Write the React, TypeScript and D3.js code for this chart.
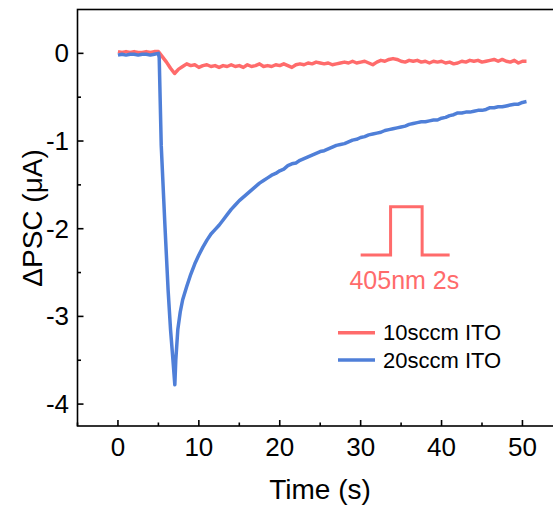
import React, { useEffect, useRef } from 'react';
import * as d3 from 'd3';

// 10sccm ITO trace
const redTime = [
  0, 0.5, 1, 1.5, 2, 2.5, 3, 3.5, 4, 4.5, 5, 5.5, 6, 6.5, 7, 7.5, 8, 8.5, 9, 9.5,
  10, 10.5, 11, 11.5, 12, 12.5, 13, 13.5, 14, 14.5, 15, 15.5, 16, 16.5, 17, 17.5, 18, 18.5, 19, 19.5,
  20, 20.5, 21, 21.5, 22, 22.5, 23, 23.5, 24, 24.5, 25, 25.5, 26, 26.5, 27, 27.5, 28, 28.5, 29, 29.5,
  30, 30.5, 31, 31.5, 32, 32.5, 33, 33.5, 34, 34.5, 35, 35.5, 36, 36.5, 37, 37.5, 38, 38.5, 39, 39.5,
  40, 40.5, 41, 41.5, 42, 42.5, 43, 43.5, 44, 44.5, 45, 45.5, 46, 46.5, 47, 47.5, 48, 48.5, 49, 49.5,
  50, 50.5,
];
const redValues = [
  0.02, 0.01, 0.02, 0.01, 0.02, 0.01, 0.01, 0.02, 0.01, 0.02, 0.02, -0.04, -0.1, -0.17, -0.23, -0.18, -0.15, -0.12, -0.14, -0.13,
  -0.16, -0.14, -0.13, -0.15, -0.14, -0.16, -0.14, -0.15, -0.13, -0.15, -0.14, -0.16, -0.13, -0.15, -0.14, -0.12, -0.15, -0.14, -0.15, -0.13,
  -0.14, -0.12, -0.14, -0.16, -0.13, -0.12, -0.13, -0.11, -0.12, -0.1, -0.11, -0.12, -0.11, -0.13, -0.12, -0.11, -0.1, -0.11, -0.09, -0.11,
  -0.1, -0.09, -0.11, -0.13, -0.1, -0.08, -0.09, -0.07, -0.06, -0.07, -0.09, -0.1, -0.08, -0.09, -0.08, -0.1, -0.09, -0.11, -0.09, -0.1,
  -0.09, -0.11, -0.1, -0.12, -0.11, -0.09, -0.1, -0.08, -0.09, -0.08, -0.1, -0.09, -0.08, -0.07, -0.09, -0.07, -0.09, -0.1, -0.08, -0.11,
  -0.09, -0.09,
];

// 20sccm ITO trace
const blueTime = [
  0, 0.5, 1, 1.5, 2, 2.5, 3, 3.5, 4, 4.5, 5, 5.1, 5.35, 5.8, 6.2, 6.5, 6.8, 7.03, 7.15, 7.4, 7.7,
  8, 8.5, 9, 9.5, 10, 10.5, 11, 11.5, 12, 12.5, 13, 13.5, 14, 14.5, 15, 15.5, 16, 16.5, 17, 17.5, 18, 18.5, 19, 19.5,
  20, 20.5, 21, 21.5, 22, 22.5, 23, 23.5, 24, 24.5, 25, 25.5, 26, 26.5, 27, 27.5, 28, 28.5, 29, 29.5,
  30, 30.5, 31, 31.5, 32, 32.5, 33, 33.5, 34, 34.5, 35, 35.5, 36, 36.5, 37, 37.5, 38, 38.5, 39, 39.5,
  40, 40.5, 41, 41.5, 42, 42.5, 43, 43.5, 44, 44.5, 45, 45.5, 46, 46.5, 47, 47.5, 48, 48.5, 49, 49.5,
  50, 50.5,
];
const blueValues = [
  -0.02, -0.01, -0.02, -0.01, -0.01, -0.02, -0.01, -0.01, -0.02, -0.01, 0.0, -0.05, -1.05, -1.95, -2.7, -3.15, -3.5, -3.78, -3.5, -3.15, -2.95,
  -2.81, -2.66, -2.52, -2.4, -2.3, -2.21, -2.13, -2.06, -2.01, -1.96, -1.9, -1.84, -1.78, -1.73, -1.68, -1.64, -1.6, -1.56, -1.52, -1.48, -1.45, -1.42, -1.39, -1.37,
  -1.34, -1.32, -1.28, -1.26, -1.25, -1.22, -1.2, -1.18, -1.16, -1.14, -1.12, -1.11, -1.09, -1.07, -1.05, -1.04, -1.03, -1.01, -0.99, -0.98,
  -0.96, -0.95, -0.93, -0.92, -0.91, -0.9, -0.88, -0.87, -0.86, -0.85, -0.84, -0.83, -0.81, -0.8, -0.79, -0.78, -0.78, -0.77, -0.76, -0.76,
  -0.74, -0.73, -0.71, -0.7, -0.68, -0.68, -0.67, -0.67, -0.66, -0.65, -0.65, -0.64, -0.62, -0.62, -0.61, -0.61, -0.6, -0.59, -0.58, -0.58,
  -0.56, -0.55,
];

// light pulse sketch (in data units)
const pulseTime = [30, 33.7, 33.7, 37.6, 37.6, 41];
const pulseLevel = [-2.3, -2.3, -1.75, -1.75, -2.3, -2.3];

const seriesNames = ['10sccm ITO', '20sccm ITO'];
const seriesColors = ['#ff6b6b', '#4f7fd8'];

const xTicks = [0, 10, 20, 30, 40, 50];
const xMinor = [-5, 5, 15, 25, 35, 45, 55];
const yTicks = [-4, -3, -2, -1, 0];
const yMinor = [-3.5, -2.5, -1.5, -0.5];

const W = 553;
const H = 511;
const FONT = '"Liberation Sans", Arial, sans-serif';

const App = () => {
  const svgRef = useRef(null);

  useEffect(() => {
    const svg = d3.select(svgRef.current);
    svg.selectAll('*').remove();

    const left = 77.5, top = 9.5, bottom = 426;
    const x = d3.scaleLinear().domain([-5, 55]).range([left, left + 60 * 8.09]);
    const y = d3.scaleLinear().domain([-4.25, 0.5]).range([bottom, top]);
    const right = x(55);

    const line = d3.line().x(d => x(d[0])).y(d => y(d[1]));

    const red = redTime.map((t, i) => [t, redValues[i]]);
    const blue = blueTime.map((t, i) => [t, blueValues[i]]);

    svg.append('path')
      .attr('d', line(red))
      .attr('fill', 'none')
      .attr('stroke', seriesColors[0])
      .attr('stroke-width', 3.5)
      .attr('stroke-linejoin', 'round');

    svg.append('path')
      .attr('d', line(blue))
      .attr('fill', 'none')
      .attr('stroke', seriesColors[1])
      .attr('stroke-width', 3.5)
      .attr('stroke-linejoin', 'round');

    // frame
    svg.append('rect')
      .attr('x', left).attr('y', top)
      .attr('width', right - left).attr('height', bottom - top)
      .attr('fill', 'none').attr('stroke', '#000').attr('stroke-width', 1.6);

    // x ticks (inward)
    svg.append('g').selectAll('line').data(xTicks).enter().append('line')
      .attr('x1', d => x(d)).attr('x2', d => x(d))
      .attr('y1', bottom).attr('y2', bottom - 6)
      .attr('stroke', '#000').attr('stroke-width', 1.6);
    svg.append('g').selectAll('line').data(xMinor).enter().append('line')
      .attr('x1', d => x(d)).attr('x2', d => x(d))
      .attr('y1', bottom).attr('y2', bottom - 3.5)
      .attr('stroke', '#000').attr('stroke-width', 1.6);
    svg.append('g').selectAll('text').data(xTicks).enter().append('text')
      .attr('x', d => x(d)).attr('y', 456)
      .attr('text-anchor', 'middle')
      .attr('font-family', FONT).attr('font-size', 26)
      .text(d => d);

    // y ticks (inward)
    svg.append('g').selectAll('line').data(yTicks).enter().append('line')
      .attr('x1', left).attr('x2', left + 6)
      .attr('y1', d => y(d)).attr('y2', d => y(d))
      .attr('stroke', '#000').attr('stroke-width', 1.6);
    svg.append('g').selectAll('line').data(yMinor).enter().append('line')
      .attr('x1', left).attr('x2', left + 3.5)
      .attr('y1', d => y(d)).attr('y2', d => y(d))
      .attr('stroke', '#000').attr('stroke-width', 1.6);
    svg.append('g').selectAll('text').data(yTicks).enter().append('text')
      .attr('x', 69).attr('y', d => y(d))
      .attr('dy', '0.35em')
      .attr('text-anchor', 'end')
      .attr('font-family', FONT).attr('font-size', 26)
      .text(d => d);

    // axis titles
    svg.append('text')
      .attr('x', 320).attr('y', 499)
      .attr('text-anchor', 'middle')
      .attr('font-family', FONT).attr('font-size', 28)
      .text('Time (s)');
    svg.append('text')
      .attr('transform', 'translate(42,218) rotate(-90)')
      .attr('text-anchor', 'middle')
      .attr('font-family', FONT).attr('font-size', 28)
      .text('ΔPSC (μA)');

    // pulse annotation
    const pulse = pulseTime.map((t, i) => [t, pulseLevel[i]]);
    svg.append('path')
      .attr('d', line(pulse))
      .attr('fill', 'none')
      .attr('stroke', seriesColors[0])
      .attr('stroke-width', 3);
    svg.append('text')
      .attr('x', x(35.4)).attr('y', y(-2.69))
      .attr('text-anchor', 'middle')
      .attr('fill', seriesColors[0])
      .attr('font-family', FONT).attr('font-size', 25)
      .text('405nm 2s');

    // legend
    const legend = svg.append('g')
      .selectAll('g')
      .data(seriesNames)
      .enter().append('g')
      .attr('transform', (d, i) => `translate(338,${332.7 + i * 27.3})`);
    legend.append('line')
      .attr('x1', 0).attr('x2', 37)
      .attr('stroke', (d, i) => seriesColors[i])
      .attr('stroke-width', 3.5);
    legend.append('text')
      .attr('x', 45)
      .attr('dy', '0.35em')
      .attr('font-family', FONT).attr('font-size', 22)
      .text(d => d);
  }, []);

  return (
    <svg ref={svgRef} width={W} height={H}
      style={{ position: 'absolute', left: 0, top: 0, background: '#fff' }} />
  );
};

export default App;
